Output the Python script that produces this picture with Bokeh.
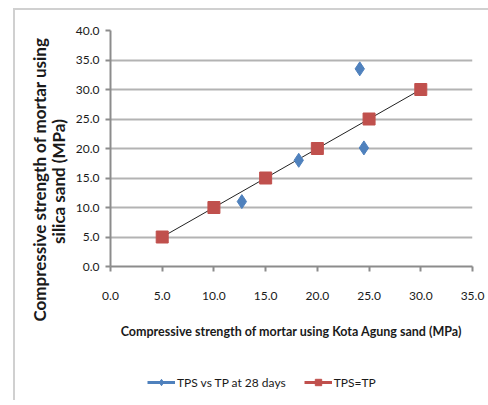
from bokeh.plotting import figure
from bokeh.layouts import column
from bokeh.models import (Legend, LegendItem, FixedTicker,
                          ColumnDataSource, NumeralTickFormatter)
from bokeh.embed import file_html
from bokeh.resources import INLINE

# data
tps_tp_x = [12.7, 18.2, 24.1, 24.5]
tps_tp_y = [11.0, 18.0, 33.5, 20.1]
eq_x = [5.0, 10.0, 15.0, 20.0, 25.0, 30.0]
eq_y = [5.0, 10.0, 15.0, 20.0, 25.0, 30.0]
x_ticks = [0, 5, 10, 15, 20, 25, 30, 35]
y_ticks = [0, 5, 10, 15, 20, 25, 30, 35, 40]
series_names = ["TPS vs TP at 28 days", "TPS=TP"]

BLUE = "#4f81bd"
RED = "#c0504d"
GRID = "#b3b3b3"
FONT = "Lato"
TXT = "#1a1a1a"
FRAME = "#d0d0d0"
NB = "\u00a0"

p = figure(width=488, height=350, output_backend="svg", toolbar_location=None,
           x_range=(0, 35), y_range=(0, 40),
           min_border_left=110, min_border_right=16, min_border_top=30,
           min_border_bottom=84)
p.outline_line_color = None
p.background_fill_color = "white"
p.border_fill_color = None

# grid
p.xgrid.grid_line_color = None
p.ygrid.grid_line_color = GRID
p.ygrid.grid_line_width = 2
p.ygrid.ticker = FixedTicker(ticks=y_ticks)

for ax, ticks in ((p.xaxis, x_ticks), (p.yaxis, y_ticks)):
    ax.ticker = FixedTicker(ticks=ticks)
    ax.formatter = NumeralTickFormatter(format="0.0")
    ax.major_label_text_font = FONT
    ax.major_label_text_font_size = "12px"
    ax.major_label_text_color = TXT
    ax.minor_tick_line_color = None
    ax.major_tick_in = 0
    ax.major_tick_out = 5
    ax.major_tick_line_color = "#8c8c8c"
    ax.axis_line_color = "#8c8c8c"
    ax.axis_line_width = 2
    ax.major_tick_line_width = 2
    ax.axis_label_text_font = FONT
    ax.axis_label_text_font_style = "bold"
    ax.axis_label_text_color = TXT

p.xaxis.major_label_standoff = 20
p.yaxis.major_label_standoff = 6

p.xaxis.axis_label = "Compressive strength of mortar using Kota Agung sand (MPa)"
p.xaxis.axis_label_text_font_size = "12.5px"
p.xaxis.axis_label_standoff = 21

# trailing no-break spaces push the centred title lower, as in the reference
p.yaxis.axis_label = ("Compressive strength of mortar using" + NB * 15 + "\n"
                      + "silica sand (MPa)" + NB * 16)
p.yaxis.axis_label_text_font_size = "17px"
p.yaxis.axis_label_text_line_height = 0.9
p.yaxis.axis_label_standoff = 4

# identity line
p.line(eq_x, eq_y, line_color="#222222", line_width=1)

src_b = ColumnDataSource(dict(x=tps_tp_x, y=tps_tp_y))
src_r = ColumnDataSource(dict(x=eq_x, y=eq_y))
p.scatter("x", "y", source=src_b, marker="diamond", size=14,
          fill_color=BLUE, line_color=BLUE)
p.scatter("x", "y", source=src_r, marker="square", size=12,
          fill_color=RED, line_color=RED)

# legend strip below the chart (its frame is aligned with the chart's frame)
leg = figure(width=488, height=50, output_backend="svg", toolbar_location=None,
             x_range=(0, 1), y_range=(0, 1), min_border=0)
leg.axis.visible = False
leg.grid.visible = False
leg.outline_line_color = None
leg.background_fill_color = None
leg.border_fill_color = None
nan_src = ColumnDataSource(dict(x=[float("nan")], y=[float("nan")]))
lb = leg.line("x", "y", source=nan_src, line_color=BLUE, line_width=3)
mb = leg.scatter("x", "y", source=nan_src, marker="diamond", size=12,
                 fill_color=BLUE, line_color=BLUE)
lr = leg.line("x", "y", source=nan_src, line_color=RED, line_width=3)
mr = leg.scatter("x", "y", source=nan_src, marker="square", size=10,
                 fill_color=RED, line_color=RED)
legend = Legend(items=[LegendItem(label=series_names[0], renderers=[lb, mb]),
                       LegendItem(label=series_names[1], renderers=[lr, mr])],
                orientation="horizontal", location=(37, 10),
                border_line_color=None, background_fill_alpha=0,
                padding=0, margin=0, spacing=18, glyph_width=28, glyph_height=16,
                label_standoff=2, label_text_font=FONT, label_text_font_size="12px",
                label_text_color=TXT)
leg.add_layout(legend, "center")

layout = column(p, leg, spacing=0)
layout.styles = {
    "background-color": "white",
    "background-image": f"linear-gradient({FRAME},{FRAME}), linear-gradient({FRAME},{FRAME})",
    "background-size": "100% 2px, 2px 100%",
    "background-position": "14px 8px, 13px 8px",
    "background-repeat": "no-repeat",
}

open("out.html", "w").write(file_html(layout, INLINE))
